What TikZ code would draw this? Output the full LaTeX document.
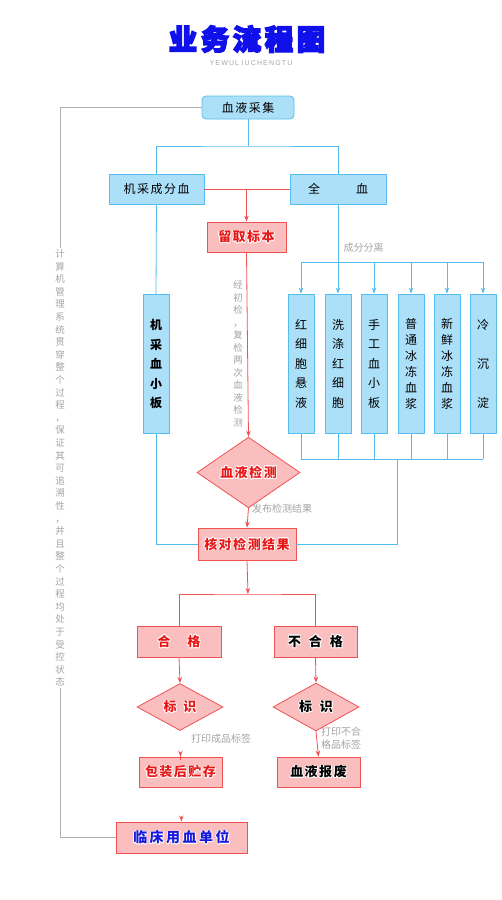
\documentclass[tikz,border=0pt]{standalone}
\usepackage{fontspec}
\setmainfont{Noto Sans CJK SC}
\newfontfamily\latinsans{Liberation Sans}
\usetikzlibrary{shapes.geometric,arrows.meta,calc}
\definecolor{boxblue}{RGB}{172,224,248}
\definecolor{edgeblue}{RGB}{85,190,238}
\definecolor{lineblue}{RGB}{80,188,240}
\definecolor{pinkfill}{RGB}{251,190,190}
\definecolor{redline}{RGB}{240,82,82}
\definecolor{redtext}{RGB}{232,24,24}
\definecolor{bluetext}{RGB}{24,24,220}
\definecolor{grayline}{RGB}{178,178,178}
\definecolor{graytext}{RGB}{165,165,165}
\definecolor{titleblue}{RGB}{16,16,235}
\newcommand\halo[2]{\leavevmode
 \rlap{\color{white}\hspace{0.8pt}#2}%
 \rlap{\color{white}\hspace{-0.8pt}#2}%
 \rlap{\color{white}\raisebox{0.8pt}{#2}}%
 \rlap{\color{white}\raisebox{-0.8pt}{#2}}%
 \rlap{\color{white}\hspace{0.6pt}\raisebox{0.6pt}{#2}}%
 \rlap{\color{white}\hspace{-0.6pt}\raisebox{0.6pt}{#2}}%
 \rlap{\color{white}\hspace{0.6pt}\raisebox{-0.6pt}{#2}}%
 \rlap{\color{white}\hspace{-0.6pt}\raisebox{-0.6pt}{#2}}%
 {\color{#1}#2}}
\newcommand\outlined[1]{{\special{pdf:literal direct 0.063 0.063 0.92 RG 2 Tr 1.4 w}#1\special{pdf:literal direct 0 Tr 1 w}}}
\newcommand\gp{\hspace{1.5pt}}
\begin{document}
\begin{tikzpicture}[x=1pt,y=-1pt,
  bluebox/.style={draw=edgeblue, fill=boxblue, line width=0.8pt, inner sep=0pt, text=black, font=\fontsize{12}{14}\selectfont},
  tallbox/.style={bluebox, minimum width=26pt, minimum height=139pt, align=center},
  pinkbox/.style={draw=redline, fill=pinkfill, line width=0.8pt, inner sep=0pt, font=\bfseries\fontsize{13}{15}\selectfont},
  pinkdiamond/.style={pinkbox, diamond},
  blueconn/.style={draw=lineblue, line width=0.8pt},
  bluearrow/.style={blueconn, -{Stealth[length=6pt,width=4.5pt]}},
  redconn/.style={draw=redline, line width=0.8pt},
  redarrow/.style={redconn, -{Stealth[length=6pt,width=4.5pt]}},
  grayconn/.style={draw=grayline, line width=0.8pt},
  labeltext/.style={text=graytext, inner sep=0pt, font=\fontsize{10}{13}\selectfont}
]
\useasboundingbox[fill=white] (0,0) rectangle (501,900);

% title
\node[inner sep=0pt, text=titleblue, font=\bfseries\fontsize{28.5}{30}\selectfont] (title) at (247,39) {\outlined{业\hspace{3.5pt}务\hspace{3.5pt}流\hspace{3.5pt}程\hspace{3.5pt}图}};
\node[inner sep=0pt, text=graytext, font=\latinsans\fontsize{7}{8}\selectfont] (subtitle) at (251,63) {Y\,E\,W\,U\,L\,\,I\,U\,C\,H\,E\,N\,G\,T\,U};

% main nodes
\node[bluebox, rounded corners=4pt, minimum width=92pt, minimum height=23pt] (collect) at (248,107.5) {血\gp 液\gp 采\gp 集};
\node[bluebox, minimum width=95pt, minimum height=30pt] (jicai) at (156.5,189) {机\gp 采\gp 成\gp 分\gp 血};
\node[bluebox, minimum width=96pt, minimum height=30pt] (quanxue) at (338,189) {全\hspace{36pt}血};
\node[pinkbox, minimum width=79pt, minimum height=30pt] (liuqu) at (246.5,237) {\halo{redtext}{留\gp 取\gp 标\gp 本}};
\node[tallbox, font=\bfseries\fontsize{12}{19.5}\selectfont] (jicaiplt) at (156,364) {机\\采\\血\\小\\板};

\node[tallbox, font=\fontsize{12}{19.5}\selectfont] (c1) at (301,363.5) {红\\细\\胞\\悬\\液};
\node[tallbox, font=\fontsize{12}{19.5}\selectfont] (c2) at (338,363.5) {洗\\涤\\红\\细\\胞};
\node[tallbox, font=\fontsize{12}{19.5}\selectfont] (c3) at (374,363.5) {手\\工\\血\\小\\板};
\node[tallbox, font=\fontsize{12}{16}\selectfont] (c4) at (411,363.5) {普\\通\\冰\\冻\\血\\浆};
\node[tallbox, font=\fontsize{12}{16}\selectfont] (c5) at (447,363.5) {新\\鲜\\冰\\冻\\血\\浆};
\node[tallbox, font=\fontsize{12}{39}\selectfont] (c6) at (483,363.5) {冷\\沉\\淀};

\node[pinkdiamond, minimum width=103pt, minimum height=45pt] (jiance) at (248.5,472.5) {\halo{redtext}{血\gp 液\gp 检\gp 测}};
\node[pinkbox, minimum width=98pt, minimum height=32pt] (hedui) at (247,544) {\halo{redtext}{核\gp 对\gp 检\gp 测\gp 结\gp 果}};

\node[pinkbox, minimum width=84pt, minimum height=31pt] (hege) at (179,641.5) {\halo{redtext}{合\hspace{17pt}格}};
\node[pinkbox, minimum width=83pt, minimum height=31pt] (buhege) at (315.5,641.5) {\halo{black}{不\hspace{8pt}合\hspace{8pt}格}};
\node[pinkdiamond, minimum width=86pt, minimum height=30pt] (biaoL) at (180,707) {\halo{redtext}{标\hspace{7pt}识}};
\node[pinkdiamond, minimum width=86pt, minimum height=30pt] (biaoR) at (316,707) {\halo{black}{标\hspace{8pt}识}};
\node[pinkbox, minimum width=83pt, minimum height=30pt] (baozhuang) at (180.5,772) {\halo{redtext}{包\gp 装\gp 后\gp 贮\gp 存}};
\node[pinkbox, minimum width=83pt, minimum height=30pt] (baofei) at (318.5,772) {\halo{black}{血\gp 液\gp 报\gp 废}};
\node[pinkbox, minimum width=131pt, minimum height=31pt, font=\bfseries\fontsize{14}{16}\selectfont] (linchuang) at (181.5,837.5) {\halo{bluetext}{临\hspace{2.5pt}床\hspace{2.5pt}用\hspace{2.5pt}血\hspace{2.5pt}单\hspace{2.5pt}位}};

% gray side note
\node[inner sep=1pt, text=graytext, align=center, font=\fontsize{9.5}{12.6}\selectfont] (note) at (60,468) {计\\算\\机\\管\\理\\系\\统\\贯\\穿\\整\\个\\过\\程\\，\\保\\证\\其\\可\\追\\溯\\性\\，\\并\\且\\整\\个\\过\\程\\均\\处\\于\\受\\控\\状\\态};

% labels
\node[labeltext] (lblsep) at (363.5,248) {成分分离};
\node[labeltext, align=center, font=\fontsize{9.5}{12.5}\selectfont] (lblcheck) at (238,354) {经\\初\\检\\，\\复\\检\\两\\次\\血\\液\\检\\测};
\node[labeltext, anchor=west] (lblpub) at (252,509) {发布检测结果};
\node[labeltext] (lblprintA) at (221,739) {打印成品标签};
\node[labeltext, anchor=west, align=left] (lblprintB) at (321,738.5) {打印不合\\格品标签};

% coordinates
\coordinate (splitA) at (248,146);
\coordinate (topbar) at (0,262);
\coordinate (botbar) at (0,459);
\coordinate (merge) at (397,459);
\coordinate (splitB) at (248,594);

% blue connectors
\draw[blueconn] (collect.south) -- (splitA);
\draw[blueconn] (jicai.north) |- (splitA) -| (quanxue.north);
\draw[blueconn] (jicai.south) -- (jicaiplt.north);
\draw[blueconn] (jicaiplt.south) |- (hedui.west);
\draw[bluearrow] (quanxue.south) -- (c2.north);
\draw[blueconn] (c1.north |- topbar) -- (c6.north |- topbar);
\foreach \c in {c1,c3,c4,c5,c6}{\draw[bluearrow] (\c.north |- topbar) -- (\c.north);}
\foreach \c in {c1,c2,c3,c4,c5,c6}{\draw[blueconn] (\c.south) -- (\c.south |- botbar);}
\draw[blueconn] (c1.south |- botbar) -- (c6.south |- botbar);
\draw[blueconn] (merge) |- (hedui.east);

% red connectors
\draw[redconn] (jicai.east) -- (quanxue.west);
\draw[redarrow] (jicai.east -| liuqu.north) -- (liuqu.north);
\draw[redarrow] (liuqu.south) -- (jiance.north);
\draw[redarrow] (jiance.south) -- (hedui.north);
\draw[redarrow] (hedui.south) -- (splitB);
\draw[redconn] (hege.north) |- (splitB) -| (buhege.north);
\draw[redarrow] (hege.south) -- (biaoL.north);
\draw[redarrow] (buhege.south) -- (biaoR.north);
\draw[redarrow, shorten <=29pt] (biaoL.south) -- (baozhuang.north);
\draw[redarrow] (biaoR.south) -- (baofei.north);
\draw[redarrow, shorten <=29pt] (baozhuang.south) -- (linchuang.north);

% gray connectors
\draw[grayconn] (collect.west) -| (note.north);
\draw[grayconn] (note.south) |- (linchuang.west);
\end{tikzpicture}
\end{document}
